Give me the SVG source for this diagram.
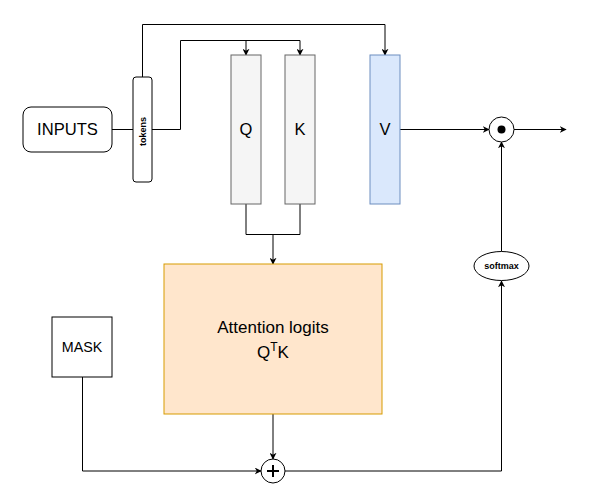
<svg xmlns="http://www.w3.org/2000/svg" width="595" height="503" viewBox="0 0 595 503">
<style>
text{font-family:"Liberation Sans",Arial,sans-serif;fill:#000;text-anchor:middle}
.c{fill:none;stroke:#000;stroke-width:1}
.n{stroke:#000;stroke-width:1}
</style>
<defs>
<marker id="a" viewBox="0 0 10 10" refX="9" refY="5" markerWidth="7" markerHeight="7" orient="auto" markerUnits="userSpaceOnUse">
<path d="M0,0 L10,5 L0,10 L3,5 Z" fill="#000"/>
</marker>
</defs>
<rect width="595" height="503" fill="#fff"/>
<g id="connectors">
<path class="c" d="M112,129.5 H133"/>
<path class="c" d="M142.5,77 V24.5 H385 V55" marker-end="url(#a)"/>
<path class="c" d="M152,129.5 H180.5 V40.5 H300 V55" marker-end="url(#a)"/>
<path class="c" d="M246,40.5 V55" marker-end="url(#a)"/>
<path class="c" d="M246,204 V234.5 H300 V204"/>
<path class="c" d="M273,234.5 V264" marker-end="url(#a)"/>
<path class="c" d="M400,129.5 H489" marker-end="url(#a)"/>
<path class="c" d="M514,129.5 H566" marker-end="url(#a)"/>
<path class="c" d="M501.5,251.5 V142" marker-end="url(#a)"/>
<path class="c" d="M273,414 V459" marker-end="url(#a)"/>
<path class="c" d="M82.5,377 V471 H261" marker-end="url(#a)"/>
<path class="c" d="M285,471 H501.5 V281" marker-end="url(#a)"/>
</g>
<g id="inputs">
<rect x="23" y="107" width="89" height="45" rx="8" fill="#fff" class="n"/>
<text x="67.5" y="135" font-size="16.6">INPUTS</text>
</g>
<g id="tokens">
<rect x="133" y="77" width="19" height="105" rx="3" fill="#fff" class="n"/>
<text transform="translate(145.5,131.5) rotate(-90)" font-size="9" font-weight="bold">tokens</text>
</g>
<g id="q">
<rect x="231" y="55" width="30" height="149" fill="#f5f5f5" stroke="#666"/>
<text x="246" y="135" font-size="16.5" fill="#333">Q</text>
</g>
<g id="k">
<rect x="285" y="55" width="30" height="149" fill="#f5f5f5" stroke="#666"/>
<text x="300" y="135" font-size="16.5" fill="#333">K</text>
</g>
<g id="v">
<rect x="370" y="55" width="30" height="149" fill="#dae8fc" stroke="#6c8ebf"/>
<text x="385" y="135" font-size="16.5">V</text>
</g>
<g id="dot">
<circle cx="501.5" cy="129.5" r="12.5" fill="#fff" class="n"/>
<circle cx="501.5" cy="129.5" r="4" fill="#000"/>
</g>
<g id="softmax">
<ellipse cx="501.5" cy="266" rx="27.5" ry="14.5" fill="#fff" class="n"/>
<text x="501.5" y="269" font-size="9" font-weight="bold">softmax</text>
</g>
<g id="attention">
<rect x="164" y="264" width="218" height="150" fill="#ffe6cc" stroke="#d79b00"/>
<text x="273" y="333" font-size="17">Attention logits</text>
<text x="273" y="358" font-size="17">Q<tspan font-size="12" dy="-7">T</tspan><tspan dy="7">K</tspan></text>
</g>
<g id="mask">
<rect x="52" y="317" width="60" height="60" fill="#fff" class="n"/>
<text x="82" y="352" font-size="14.3">MASK</text>
</g>
<g id="plus">
<circle cx="273" cy="471" r="12" fill="#fff" class="n"/>
<path d="M267,471 H279 M273,465 V477" stroke="#000" stroke-width="2"/>
</g>
</svg>
